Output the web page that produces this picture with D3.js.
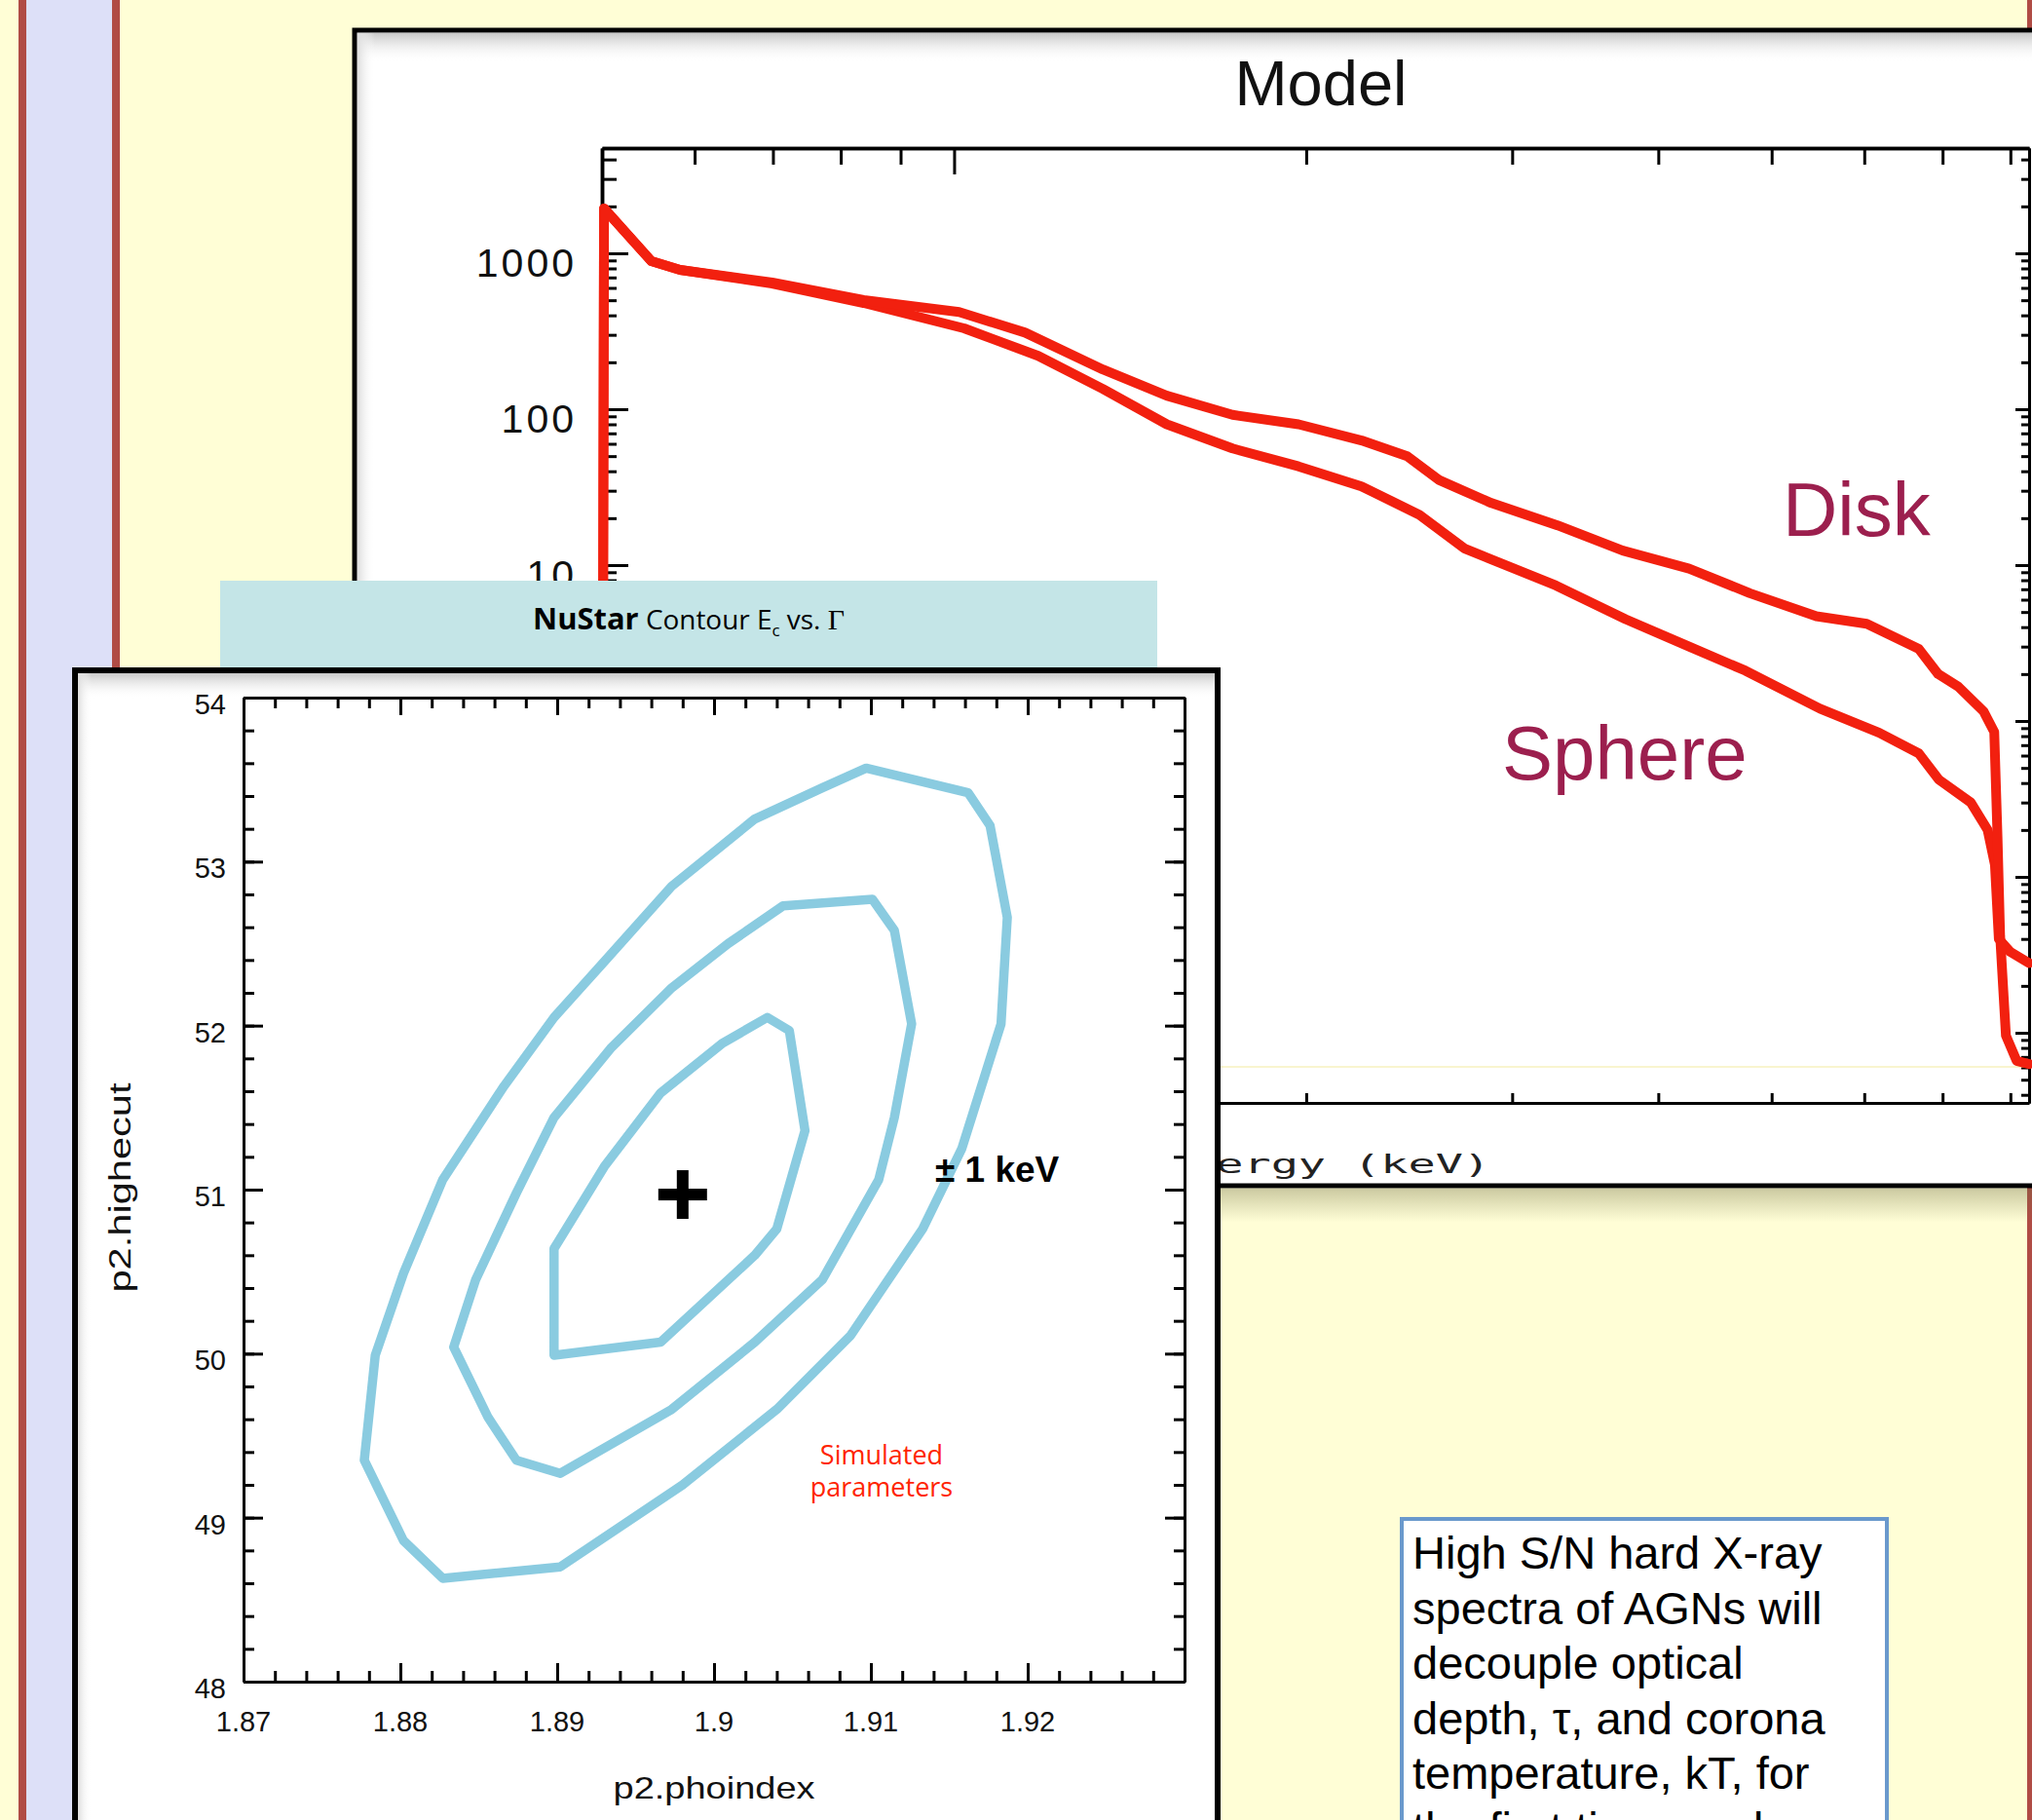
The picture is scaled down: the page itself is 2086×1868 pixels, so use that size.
<!DOCTYPE html>
<html>
<head>
<meta charset="utf-8">
<title>Model spectra and NuSTAR contour</title>
<script src="https://cdn.jsdelivr.net/npm/d3@7"></script>
<style>
  html, body { margin: 0; padding: 0; background: #fffed6; }
  svg { display: block; }
</style>
</head>
<body>
<svg id="chart" width="2086" height="1868"></svg>
<script>
// ---- Model spectra: photon energy (keV) and flux for the two corona geometries ----
const diskEnergy = [5.0, 5.02, 5.51, 5.83, 6.99, 8.37, 10.1, 11.5, 13.4, 15.2, 17.3, 19.7, 22.3, 24.4, 26.0, 28.8, 32.8, 37.3, 42.5, 47.9, 54.6, 60.3, 66.8, 69.4, 72.2, 75.9, 77.5, 78.0, 78.4, 79.3, 81.0, 83.0];
const diskFlux   = [0.004, 1940, 891, 783, 649, 501, 420, 310, 180, 122, 92, 80, 63, 50, 35, 25, 18, 12.4, 9.5, 6.6, 4.7, 4.2, 2.9, 2.0, 1.66, 1.15, 0.85, 0.18, 0.042, 0.0096, 0.0066, 0.0063];
const sphereEnergy = [5.0, 5.02, 5.51, 5.83, 6.99, 8.37, 10.2, 11.8, 13.4, 15.2, 17.3, 19.7, 22.3, 25.0, 27.3, 32.7, 37.5, 42.5, 47.5, 55.0, 61.8, 66.8, 69.5, 74.0, 76.5, 77.6, 78.2, 80.0, 83.0];
const sphereFlux   = [0.004, 1940, 891, 783, 640, 480, 330, 220, 135, 80, 56, 43, 32, 21, 12.8, 7.4, 4.5, 3.0, 2.1, 1.2, 0.84, 0.62, 0.42, 0.30, 0.20, 0.12, 0.04, 0.033, 0.028];
const fluxTickLabels = ["1000", "100", "10"];
const energyMajorTicks = [10];
const energyMinorTicks = [6, 7, 8, 9, 20, 30, 40, 50, 60, 70, 80];

// ---- Confidence contours: cut-off energy (keV) against photon index ----
const gammaTickLabels = ["1.87", "1.88", "1.89", "1.9", "1.91", "1.92"];
const ecutTickLabels = ["48", "49", "50", "51", "52", "53", "54"];
const outerGamma = [1.9097, 1.9162, 1.9176, 1.9187, 1.9183, 1.9158, 1.9133, 1.9087, 1.9040, 1.8980, 1.8902, 1.8827, 1.8802, 1.8777, 1.8784, 1.8802, 1.8827, 1.8866, 1.8898, 1.8930, 1.8973, 1.9026, 1.9069];
const outerEcut  = [53.57, 53.42, 53.22, 52.66, 52.01, 51.25, 50.76, 50.11, 49.66, 49.20, 48.70, 48.63, 48.86, 49.35, 49.99, 50.49, 51.06, 51.63, 52.05, 52.39, 52.85, 53.26, 53.45];
const middleGamma = [1.9044, 1.9101, 1.9115, 1.9126, 1.9115, 1.9105, 1.9069, 1.9026, 1.8973, 1.8902, 1.8874, 1.8856, 1.8834, 1.8848, 1.8874, 1.8898, 1.8934, 1.8973, 1.9009];
const middleEcut  = [52.73, 52.77, 52.58, 52.01, 51.44, 51.06, 50.45, 50.07, 49.66, 49.27, 49.35, 49.61, 50.04, 50.45, 50.98, 51.44, 51.86, 52.23, 52.50];
const innerGamma = [1.9034, 1.9048, 1.9058, 1.9040, 1.9026, 1.8966, 1.8898, 1.8898, 1.8930, 1.8966, 1.9005];
const innerEcut  = [52.05, 51.97, 51.36, 50.76, 50.60, 50.07, 49.99, 50.64, 51.14, 51.59, 51.89];
const simulatedGamma = [1.898];
const simulatedEcut = [50.97];

// ---- Caption text ----
const noteLines = [
  "High S/N hard X-ray",
  "spectra of AGNs will",
  "decouple optical",
  "depth, \u03c4, and corona",
  "temperature, kT, for",
  "the first time, and may"
];

const W = 2086, H = 1868;
const svg = d3.select("#chart");
const defs = svg.append("defs");

function linearGradient(id, horizontal, stops) {
  const g = defs.append("linearGradient").attr("id", id)
    .attr("x1", 0).attr("y1", 0).attr("x2", horizontal ? 1 : 0).attr("y2", horizontal ? 0 : 1);
  stops.forEach(([o, c, a]) => g.append("stop").attr("offset", o).attr("stop-color", c).attr("stop-opacity", a));
}
linearGradient("shadeTop", false, [[0, "#c8c8c8", 1], [1, "#ffffff", 0]]);
linearGradient("shadeLeft", true, [[0, "#dedede", 1], [1, "#ffffff", 0]]);
linearGradient("dropBelow", false, [[0, "#6e6a40", 0.35], [1, "#6e6a40", 0]]);

// ---- Slide background and side bands ----
svg.append("rect").attr("width", W).attr("height", H).attr("fill", "#fffed6");
svg.append("rect").attr("x", 19).attr("y", 0).attr("width", 8).attr("height", H).attr("fill", "#b04c45");
svg.append("rect").attr("x", 27).attr("y", 0).attr("width", 88).attr("height", H).attr("fill", "#dde0f8");
svg.append("rect").attr("x", 115).attr("y", 0).attr("width", 8).attr("height", H).attr("fill", "#b04c45");
svg.append("rect").attr("x", 2081).attr("y", 0).attr("width", 6).attr("height", H).attr("fill", "#b04c45");

// ---- Spectrum panel ----
const spec = svg.append("g");
spec.append("rect").attr("x", 364).attr("y", 1220).attr("width", W - 364).attr("height", 34).attr("fill", "url(#dropBelow)");
spec.append("rect").attr("x", 364).attr("y", 31).attr("width", 1800).attr("height", 1186)
  .attr("fill", "#fff").attr("stroke", "#000").attr("stroke-width", 5);
spec.append("rect").attr("x", 367).attr("y", 34).attr("width", 1800).attr("height", 30).attr("fill", "url(#shadeTop)");
spec.append("rect").attr("x", 367).attr("y", 34).attr("width", 18).attr("height", 1180).attr("fill", "url(#shadeLeft)");

const plotL = 618, plotR = 2083, plotT = 152, plotB = 1132;
const xE = d3.scaleLog().domain([5, 83]).range([plotL, plotR]);
const yF = d3.scaleLog().domain([0.00355, 4730]).range([plotB, plotT]);

spec.append("text").attr("x", 1356).attr("y", 108).attr("text-anchor", "middle")
  .attr("font-family", "'Liberation Sans', Arial, sans-serif").attr("font-size", 65).attr("fill", "#111")
  .text("Model");

const fluxDecades = [0.01, 0.1, 1, 10, 100, 1000];
const fluxMinors = [];
[0.001, 0.01, 0.1, 1, 10, 100, 1000].forEach(d => {
  for (let m = 2; m <= 9; m++) {
    const v = d * m;
    if (v > yF.domain()[0] && v < yF.domain()[1]) fluxMinors.push(v);
  }
});

function styleAxis(sel, width) {
  sel.select(".domain").attr("stroke", "#000").attr("stroke-width", width);
  sel.selectAll(".tick line").attr("stroke", "#000").attr("stroke-width", 3);
  sel.selectAll(".tick text").remove();
  return sel;
}
function addAxis(parent, axis, tx, ty, width) {
  return styleAxis(parent.append("g").attr("transform", `translate(${tx},${ty})`).call(axis), width);
}

// left / right flux axes, ticks pointing inward
addAxis(spec, d3.axisRight(yF).tickValues(fluxMinors).tickSize(15).tickSizeOuter(0).tickFormat(""), plotL, 0, 3.5);
addAxis(spec, d3.axisRight(yF).tickValues(fluxDecades).tickSize(27).tickSizeOuter(0).tickFormat(""), plotL, 0, 3.5);
addAxis(spec, d3.axisLeft(yF).tickValues(fluxMinors).tickSize(8).tickSizeOuter(0).tickFormat(""), plotR, 0, 3);
addAxis(spec, d3.axisLeft(yF).tickValues(fluxDecades).tickSize(14).tickSizeOuter(0).tickFormat(""), plotR, 0, 3);
// top / bottom energy axes
addAxis(spec, d3.axisBottom(xE).tickValues(energyMinorTicks).tickSize(17).tickSizeOuter(0).tickFormat(""), 0, plotT, 3.5);
addAxis(spec, d3.axisBottom(xE).tickValues(energyMajorTicks).tickSize(27).tickSizeOuter(0).tickFormat(""), 0, plotT, 3.5);
addAxis(spec, d3.axisTop(xE).tickValues(energyMinorTicks.concat(energyMajorTicks)).tickSize(10).tickSizeOuter(0).tickFormat(""), 0, plotB, 3);

spec.selectAll("text.fluxLabel").data(fluxTickLabels).join("text")
  .attr("class", "fluxLabel")
  .attr("x", 592).attr("y", d => yF(+d) + 24)
  .attr("text-anchor", "end")
  .attr("font-family", "'Liberation Sans', Arial, sans-serif").attr("font-size", 41)
  .attr("letter-spacing", 3).attr("fill", "#111")
  .text(d => d);

spec.append("line").attr("x1", 1252).attr("x2", W).attr("y1", 1095).attr("y2", 1095)
  .attr("stroke", "#f6efb0").attr("stroke-width", 1.5).attr("opacity", 0.8);

const spectrumLine = d3.line().x(d => xE(d[0])).y(d => yF(d[1]));
const curves = [d3.zip(sphereEnergy, sphereFlux), d3.zip(diskEnergy, diskFlux)];
spec.selectAll("path.model").data(curves).join("path")
  .attr("class", "model")
  .attr("d", spectrumLine)
  .attr("fill", "none").attr("stroke", "#f2200f").attr("stroke-width", 10)
  .attr("stroke-linejoin", "round").attr("stroke-linecap", "round");

spec.append("text").attr("x", 1830).attr("y", 550)
  .attr("font-family", "'Liberation Sans', Arial, sans-serif").attr("font-size", 78).attr("fill", "#9c1f4e")
  .text("Disk");
spec.append("text").attr("x", 1542).attr("y", 800)
  .attr("font-family", "'Liberation Sans', Arial, sans-serif").attr("font-size", 78).attr("fill", "#9c1f4e")
  .text("Sphere");

spec.append("text").attr("x", 1192).attr("y", 1204)
  .attr("textLength", 338).attr("lengthAdjust", "spacingAndGlyphs")
  .attr("font-family", "'DejaVu Sans Mono', monospace").attr("font-size", 26).attr("fill", "#222")
  .text("Energy (keV)");

// ---- Contour title bar ----
svg.append("rect").attr("x", 226).attr("y", 596).attr("width", 962).attr("height", 89).attr("fill", "#c4e5e7");
const head = svg.append("text").attr("x", 547).attr("y", 646)
  .attr("textLength", 320).attr("lengthAdjust", "spacingAndGlyphs")
  .attr("font-family", "'Open Sans', 'Noto Sans', sans-serif").attr("font-size", 28).attr("fill", "#000");
head.append("tspan").attr("font-weight", "bold").attr("font-size", 31).text("NuStar");
head.append("tspan").text(" Contour E");
head.append("tspan").attr("font-size", 17).attr("dy", 7).text("c");
head.append("tspan").attr("dy", -7).text(" vs. ");
head.append("tspan").attr("font-family", "'Liberation Serif', serif").attr("font-size", 30).text("\u0393");

// ---- Contour panel ----
const cont = svg.append("g");
cont.append("rect").attr("x", 77).attr("y", 688).attr("width", 1173).attr("height", 1300)
  .attr("fill", "#fff").attr("stroke", "#000").attr("stroke-width", 6);
cont.append("rect").attr("x", 80).attr("y", 691).attr("width", 1167).attr("height", 26).attr("fill", "url(#shadeTop)");
cont.append("rect").attr("x", 80).attr("y", 691).attr("width", 14).attr("height", 1180).attr("fill", "url(#shadeLeft)");

const cL = 250, cR = 1216, cT = 716, cB = 1726;
const xG = d3.scaleLinear().domain([1.87, 1.93]).range([cL, cR]);
const yC = d3.scaleLinear().domain([48, 54]).range([cB, cT]);

const gammaMajor = d3.range(0, 7).map(i => +(1.87 + i * 0.01).toFixed(3));
const gammaMinor = d3.range(0, 31).map(i => +(1.87 + i * 0.002).toFixed(4));
const ecutMajor = d3.range(48, 55);
const ecutMinor = d3.range(0, 31).map(i => +(48 + i * 0.2).toFixed(2));

addAxis(cont, d3.axisTop(xG).tickValues(gammaMinor).tickSize(11).tickSizeOuter(0).tickFormat(""), 0, cB, 3);
addAxis(cont, d3.axisTop(xG).tickValues(gammaMajor).tickSize(19).tickSizeOuter(0).tickFormat(""), 0, cB, 3);
addAxis(cont, d3.axisBottom(xG).tickValues(gammaMinor).tickSize(11).tickSizeOuter(0).tickFormat(""), 0, cT, 3);
addAxis(cont, d3.axisBottom(xG).tickValues(gammaMajor).tickSize(18).tickSizeOuter(0).tickFormat(""), 0, cT, 3);
addAxis(cont, d3.axisRight(yC).tickValues(ecutMinor).tickSize(11).tickSizeOuter(0).tickFormat(""), cL, 0, 3);
addAxis(cont, d3.axisRight(yC).tickValues(ecutMajor).tickSize(20).tickSizeOuter(0).tickFormat(""), cL, 0, 3);
addAxis(cont, d3.axisLeft(yC).tickValues(ecutMinor).tickSize(11).tickSizeOuter(0).tickFormat(""), cR, 0, 3);
addAxis(cont, d3.axisLeft(yC).tickValues(ecutMajor).tickSize(20).tickSizeOuter(0).tickFormat(""), cR, 0, 3);

const tickFont = "'Liberation Sans', Arial, sans-serif";
cont.selectAll("text.gLabel").data(gammaTickLabels).join("text")
  .attr("class", "gLabel").attr("x", d => xG(+d)).attr("y", 1777)
  .attr("text-anchor", "middle").attr("font-family", tickFont).attr("font-size", 29).attr("fill", "#111")
  .text(d => d);
cont.selectAll("text.eLabel").data(ecutTickLabels).join("text")
  .attr("class", "eLabel").attr("x", 232).attr("y", d => yC(+d) + 17)
  .attr("text-anchor", "end").attr("font-family", tickFont).attr("font-size", 29).attr("fill", "#111")
  .text(d => d);

cont.append("text").attr("x", 733).attr("y", 1846).attr("text-anchor", "middle")
  .attr("textLength", 207).attr("lengthAdjust", "spacingAndGlyphs")
  .attr("font-family", tickFont).attr("font-size", 32).attr("fill", "#111")
  .text("p2.phoindex");
cont.append("text").attr("transform", "translate(134,1219) rotate(-90)").attr("text-anchor", "middle")
  .attr("textLength", 215).attr("lengthAdjust", "spacingAndGlyphs")
  .attr("font-family", tickFont).attr("font-size", 32).attr("fill", "#111")
  .text("p2.highecut");

const contourLine = d3.line().x(d => xG(d[0])).y(d => yC(d[1])).curve(d3.curveLinearClosed);
const contours = [d3.zip(outerGamma, outerEcut), d3.zip(middleGamma, middleEcut), d3.zip(innerGamma, innerEcut)];
cont.selectAll("path.level").data(contours).join("path")
  .attr("class", "level").attr("d", contourLine)
  .attr("fill", "none").attr("stroke", "#8acbe0").attr("stroke-width", 9.5).attr("stroke-linejoin", "round");

const plusSize = 50, plusWidth = 12;
cont.selectAll("g.sim").data(d3.zip(simulatedGamma, simulatedEcut)).join("g")
  .attr("class", "sim")
  .attr("transform", d => `translate(${xG(d[0])},${yC(d[1])})`)
  .each(function () {
    const g = d3.select(this);
    g.append("rect").attr("x", -plusSize / 2).attr("y", -plusWidth / 2).attr("width", plusSize).attr("height", plusWidth).attr("fill", "#000");
    g.append("rect").attr("x", -plusWidth / 2).attr("y", -plusSize / 2).attr("width", plusWidth).attr("height", plusSize).attr("fill", "#000");
  });

cont.append("text").attr("x", 960).attr("y", 1213)
  .attr("font-family", "'Liberation Sans', Arial, sans-serif").attr("font-weight", "bold").attr("font-size", 37).attr("fill", "#000")
  .text("\u00b1 1 keV");
cont.selectAll("text.simNote").data(["Simulated", "parameters"]).join("text")
  .attr("class", "simNote").attr("x", 905).attr("y", (d, i) => 1503 + i * 33)
  .attr("text-anchor", "middle").attr("font-family", "'Open Sans', 'Noto Sans', sans-serif").attr("font-size", 27)
  .attr("fill", "#ff2400")
  .text(d => d);

// ---- Caption box ----
const note = svg.append("g");
note.append("rect").attr("x", 1439).attr("y", 1559).attr("width", 498).attr("height", 400)
  .attr("fill", "#fff").attr("stroke", "#6a99cc").attr("stroke-width", 4);
note.selectAll("text").data(noteLines).join("text")
  .attr("x", 1450).attr("y", (d, i) => 1610 + i * 56.6)
  .attr("font-family", "'Liberation Sans', Arial, sans-serif").attr("font-size", 47).attr("fill", "#000")
  .text(d => d);
</script>
</body>
</html>
